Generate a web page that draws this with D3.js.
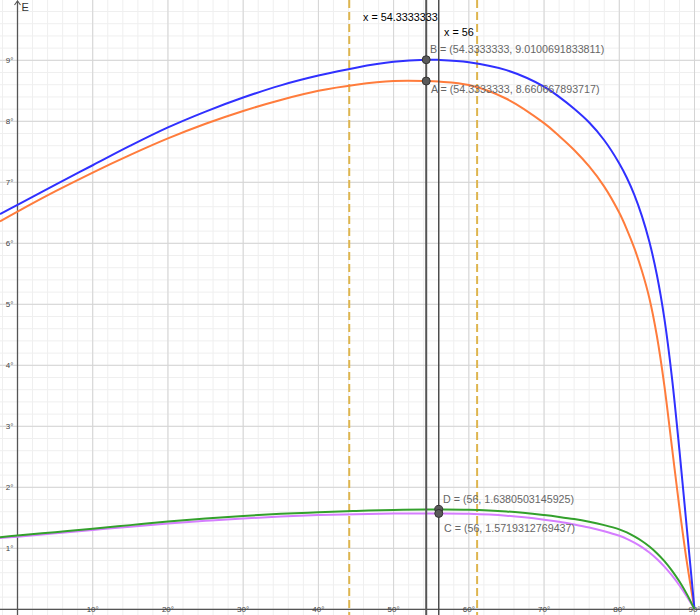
<!DOCTYPE html>
<html>
<head>
<meta charset="utf-8">
<script src="https://cdn.jsdelivr.net/npm/d3@7"></script>
<style>
  html, body { margin: 0; padding: 0; background: #fff; }
  svg { display: block; }
  text { font-family: "Liberation Sans", Arial, Helvetica, sans-serif; }
</style>
</head>
<body>
<svg id="chart" width="700" height="615"></svg>
<script>
// ---- data ----
const angles  = [-2.33, 0, 5, 10, 15, 20, 25, 30, 35, 40, 45, 50, 54.3333333, 56, 60, 65, 70, 72, 74, 76, 78, 80, 81, 82, 83, 84, 85, 86, 87, 88, 89, 90];
const blueE   = [6.48, 6.63, 6.96, 7.28, 7.60, 7.90, 8.16, 8.39, 8.59, 8.75, 8.88, 8.975, 9.0100691833811, 9.008, 8.97, 8.84, 8.57, 8.40, 8.205, 7.98, 7.69, 7.31, 7.075, 6.795, 6.45, 6.025, 5.48, 4.76, 3.80, 2.60, 1.30, 0];
const orangeE = [6.36, 6.52, 6.85, 7.16, 7.45, 7.72, 7.96, 8.17, 8.35, 8.50, 8.60, 8.66, 8.660667893717, 8.652, 8.595, 8.37, 7.97, 7.76, 7.53, 7.26, 6.93, 6.50, 6.23, 5.92, 5.55, 5.10, 4.48, 3.66, 2.66, 1.66, 0.76, 0];
const greenE  = [1.18, 1.21, 1.265, 1.32, 1.38, 1.44, 1.49, 1.53, 1.565, 1.59, 1.612, 1.628, 1.636, 1.6380503145925, 1.634, 1.605, 1.545, 1.515, 1.48, 1.435, 1.38, 1.31, 1.26, 1.195, 1.12, 1.03, 0.92, 0.79, 0.635, 0.455, 0.245, 0];
const purpleE = [1.17, 1.19, 1.245, 1.30, 1.355, 1.405, 1.45, 1.49, 1.52, 1.545, 1.56, 1.569, 1.5715, 1.5719312769437, 1.566, 1.535, 1.47, 1.435, 1.39, 1.34, 1.28, 1.205, 1.155, 1.095, 1.02, 0.93, 0.825, 0.70, 0.555, 0.39, 0.205, 0];

const xTicks = [10, 20, 30, 40, 50, 60, 70, 80, 90];
const yTicks = [1, 2, 3, 4, 5, 6, 7, 8, 9];
const xTickLabels = xTicks.map(d => d + "°");
const yTickLabels = yTicks.map(d => d + "°");

const verticalLines = [
  { x: 54.3333333, label: "x = 54.3333333" },
  { x: 56, label: "x = 56" }
];
const dashedLines = [44.1, 61.1];

const points = [
  { name: "B", x: 54.3333333, y: 9.0100691833811, label: "B = (54.3333333, 9.0100691833811)" },
  { name: "A", x: 54.3333333, y: 8.660667893717,  label: "A = (54.3333333, 8.660667893717)" },
  { name: "D", x: 56, y: 1.6380503145925, label: "D = (56, 1.6380503145925)" },
  { name: "C", x: 56, y: 1.5719312769437, label: "C = (56, 1.5719312769437)" }
];

// ---- chart ----
const W = 700, H = 615;
const svg = d3.select("#chart");

const x = d3.scaleLinear().domain([-2.327, 90.73]).range([0, W]);
const y = d3.scaleLinear().domain([-0.0934, 9.989]).range([H, 0]);

// grid
const minorX = d3.range(-2, 91, 2);
const minorY = d3.range(0, 10.01, 0.2);
const g = svg.append("g");
g.selectAll(".mx").data(minorX).enter().append("line")
  .attr("x1", d => x(d)).attr("x2", d => x(d)).attr("y1", 0).attr("y2", H)
  .attr("stroke", "#efefef").attr("stroke-width", 1);
g.selectAll(".my").data(minorY).enter().append("line")
  .attr("y1", d => y(d)).attr("y2", d => y(d)).attr("x1", 0).attr("x2", W)
  .attr("stroke", "#efefef").attr("stroke-width", 1);
g.selectAll(".Mx").data(d3.range(0, 91, 10)).enter().append("line")
  .attr("x1", d => x(d)).attr("x2", d => x(d)).attr("y1", 0).attr("y2", H)
  .attr("stroke", "#d4d4d4").attr("stroke-width", 1);
g.selectAll(".My").data(d3.range(0, 10, 1)).enter().append("line")
  .attr("y1", d => y(d)).attr("y2", d => y(d)).attr("x1", 0).attr("x2", W)
  .attr("stroke", "#d4d4d4").attr("stroke-width", 1);

// axes
svg.append("line").attr("x1", x(0)).attr("x2", x(0)).attr("y1", 1).attr("y2", H)
  .attr("stroke", "#555").attr("stroke-width", 1.3);
svg.append("line").attr("x1", 0).attr("x2", W).attr("y1", y(0)).attr("y2", y(0))
  .attr("stroke", "#555").attr("stroke-width", 1.3);
svg.append("path")
  .attr("d", `M${x(0)-3},${5} L${x(0)},${1} L${x(0)+3},${5}`)
  .attr("fill", "none").attr("stroke", "#555").attr("stroke-width", 1.1);
svg.append("text").attr("x", x(0) + 4).attr("y", 11).text("E")
  .attr("font-size", 11).attr("fill", "#333");

// tick labels
svg.selectAll(".xl").data(xTicks).enter().append("text")
  .attr("x", d => x(d)).attr("y", y(0) + 3)
  .attr("text-anchor", "middle").attr("font-size", 8).attr("fill", "#444")
  .text((d, i) => xTickLabels[i]);
svg.selectAll(".yl").data(yTicks).enter().append("text")
  .attr("x", x(0) - 4).attr("y", d => y(d) + 3)
  .attr("text-anchor", "end").attr("font-size", 8).attr("fill", "#444")
  .text((d, i) => yTickLabels[i]);

// dashed gold lines
svg.selectAll(".dl").data(dashedLines).enter().append("line")
  .attr("x1", d => x(d)).attr("x2", d => x(d)).attr("y1", 0).attr("y2", H)
  .attr("stroke", "#deb54e").attr("stroke-width", 2).attr("stroke-dasharray", "8,4");

// curves
const series = [
  { vals: orangeE, color: "#ff7c3c" },
  { vals: blueE, color: "#3030ff" },
  { vals: purpleE, color: "#d57eff" },
  { vals: greenE, color: "#33a02c" }
];
const line = d3.line().x(d => x(d[0])).y(d => y(d[1])).curve(d3.curveCatmullRom.alpha(0.5));
series.forEach(s => {
  svg.append("path")
    .datum(angles.map((a, i) => [a, s.vals[i]]))
    .attr("d", line)
    .attr("fill", "none").attr("stroke", s.color).attr("stroke-width", 2);
});

// vertical solid lines
svg.append("line").attr("x1", x(verticalLines[0].x)).attr("x2", x(verticalLines[0].x))
  .attr("y1", 0).attr("y2", H).attr("stroke", "#555").attr("stroke-width", 2);
svg.append("line").attr("x1", x(verticalLines[1].x)).attr("x2", x(verticalLines[1].x))
  .attr("y1", 0).attr("y2", H).attr("stroke", "#444").attr("stroke-width", 1.4);
svg.append("text").attr("x", 363).attr("y", 21).attr("font-size", 10.8).attr("fill", "#000")
  .text(verticalLines[0].label);
svg.append("text").attr("x", 444).attr("y", 36).attr("font-size", 10.8).attr("fill", "#000")
  .text(verticalLines[1].label);

// points
svg.selectAll(".pt").data(points).enter().append("circle")
  .attr("cx", d => x(d.x)).attr("cy", d => y(d.y)).attr("r", 4)
  .attr("fill", "#5a5a5a").attr("stroke", "#333").attr("stroke-width", 1);

// point labels
const labelPos = { B: [430, 53], A: [431, 93], D: [443, 503], C: [444, 532] };
svg.selectAll(".pl").data(points).enter().append("text")
  .attr("x", d => labelPos[d.name][0]).attr("y", d => labelPos[d.name][1])
  .attr("font-size", 10.7).attr("fill", "#666")
  .text(d => d.label);
</script>
</body>
</html>
